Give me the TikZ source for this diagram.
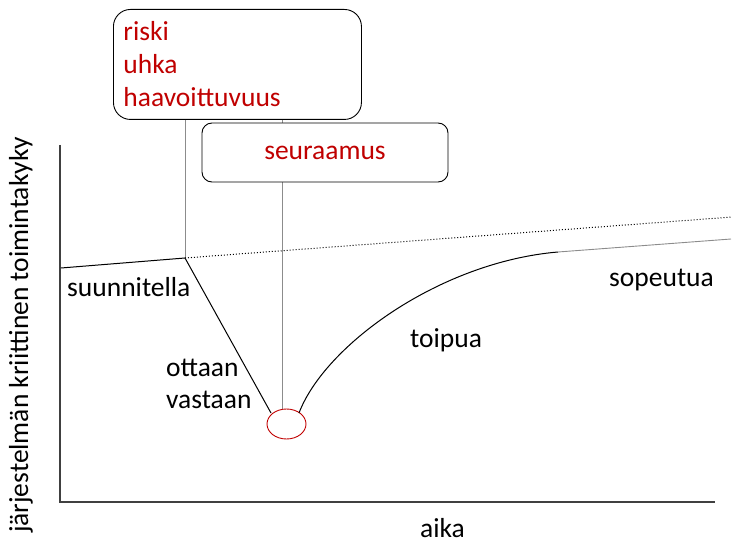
\documentclass[tikz,border=0pt]{standalone}
\usepackage{fontspec}
\setmainfont{Carlito}
\usepackage{tikz}
\usetikzlibrary{shapes.geometric,positioning,calc}
\usepackage{xcolor}
\definecolor{riskred}{HTML}{C00000}
\definecolor{guide}{HTML}{8C8C8C}
\definecolor{axisgrey}{HTML}{404040}

\tikzset{
  label/.style={anchor=base west, inner sep=0pt, font=\fontsize{27.5}{33}\selectfont},
  riskbox/.style={draw, rounded corners=17pt, line width=0.9pt, fill=white,
    font=\fontsize{27.5}{33}\selectfont\color{riskred}},
  curve/.style={line width=1pt},
  guideline/.style={guide, line width=0.9pt}
}

\begin{document}
\begin{tikzpicture}[x=1pt, y=-1pt]
  \useasboundingbox (0,0) rectangle (732,543);

  % axes
  \coordinate (o) at (60,502);
  \coordinate (ytop) at (60,145);
  \coordinate (xend) at (715,502);
  \draw[axisgrey, line width=1.2pt] (ytop) -- (o) -- (xend);
  \node[font=\fontsize{27.5}{33}\selectfont, rotate=90] (ylab) at (21,335) {järjestelmän kriittinen toimintakyky};
  \node[label] (aika) at (420,537) {aika};

  % curve points
  \coordinate (start) at (61,268);
  \coordinate (plan) at (185,258);
  \coordinate (low) at (271,413);
  \coordinate (up) at (299,413);
  \coordinate (knee) at (558,252);
  \coordinate (fin) at (731,239);
  \coordinate (dotend) at (732,217);
  \coordinate (hitx) at (282,409);

  % boxes
  \node[riskbox, anchor=north west, minimum width=248pt, minimum height=110pt,
        text width=228pt, align=left, inner xsep=10pt] (risk) at (113,9)
        {riski\\uhka\\haavoittuvuus};
  \draw[guideline] (plan |- risk.south) -- (plan);
  \draw[guideline] (hitx |- risk.south) -- (hitx);
  \node[riskbox, rounded corners=10pt, minimum width=246pt, minimum height=59pt,
        inner sep=0pt] (seur) at (325,152.5) {seuraamus};

  % incident
  \node[ellipse, draw=riskred, line width=0.9pt, minimum width=39pt,
        minimum height=30pt, inner sep=0pt] (inc) at (286.5,424) {};

  \draw[curve] (start) -- (plan) -- (low);
  \draw[dotted, line width=1pt] (plan) -- (dotend);
  \draw[curve] (up) .. controls (325,345) and (440,262) .. (knee);
  \draw[guideline] (knee) -- (fin);

  % phase labels
  \node[label] (suun) at (67,296) {suunnitella};
  \node[label] (ott) at (166,376) {ottaan};
  \node[label] (vast) at (166,408) {vastaan};
  \node[label] (toip) at (410,347) {toipua};
  \node[label] (sope) at (609,286) {sopeutua};
\end{tikzpicture}
\end{document}
